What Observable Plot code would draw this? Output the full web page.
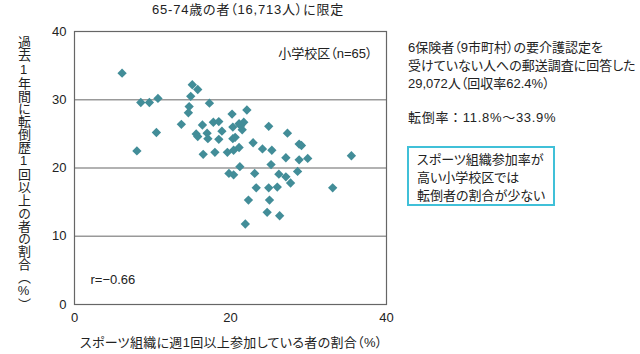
<!DOCTYPE html>
<html><head><meta charset="utf-8">
<script src="https://cdn.jsdelivr.net/npm/d3@7"></script>
<script src="https://cdn.jsdelivr.net/npm/@observablehq/plot@0.6"></script>
<style>
body{margin:0;background:#fff;}
#wrap{position:relative;width:640px;height:354px;font-family:"Liberation Sans","Noto Sans CJK JP",sans-serif;color:#222;font-feature-settings:"palt";}
#wrap svg{position:absolute;left:0;top:0;}
.t{position:absolute;font-size:13px;line-height:18px;white-space:nowrap;}
#ylab{position:absolute;left:14px;top:36px;writing-mode:vertical-rl;text-orientation:upright;font-size:13px;line-height:18px;font-feature-settings:normal;letter-spacing:-0.2px;}
#box{position:absolute;left:407px;top:146px;width:148px;height:60px;border:2px solid #40c0d8;padding:3px 0 0 8px;box-sizing:border-box;font-size:13px;line-height:18px;}
</style></head>
<body><div id="wrap"></div>
<script>
// school-district participation rate (%) and fall rate (%)
const sportRate = [6.1,15.1,15.8,8.5,9.6,10.7,14.9,17.3,14.7,14.6,20.2,22.1,13.7,10.5,16.4,17.8,18.5,15.6,15.8,17.0,17.1,18.5,18.9,20.3,20.3,20.6,21.1,21.7,21.5,24.9,27.3,8.0,16.5,18.0,19.6,20.4,21.1,22.9,24.1,25.3,28.8,29.1,27.1,28.8,29.9,35.5,21.2,25.2,19.8,20.4,23.1,26.2,27.1,27.7,28.6,23.3,24.9,26.0,33.1,22.3,25.0,24.7,26.3,21.9,21.3];
const fallRate  = [33.9,32.2,31.5,29.6,29.6,30.2,30.5,29.5,29.0,28.1,27.9,28.5,26.4,25.2,26.3,26.7,26.8,25.0,24.6,25.1,24.3,24.2,25.4,26.0,24.3,24.5,26.5,26.7,25.6,26.1,25.1,22.5,22.0,22.3,22.3,22.6,23.0,23.7,22.8,22.6,23.5,23.3,21.5,21.2,21.4,21.8,20.2,20.5,19.2,19.0,19.2,19.1,18.7,17.8,19.5,17.1,17.1,17.2,17.1,15.3,15.3,13.5,13.0,11.8,26.2];
const xTicks = [0,20,40];
const yTicks = [0,10,20,30,40];
const yGrid = [10,20,30];
const title = "65-74歳の者（16,713人）に限定";
const xLabel = "スポーツ組織に週1回以上参加している者の割合（%）";
const yLabel = "過去1年間に転倒歴1回以上の者の割合（%）";
const groupLabel = "小学校区（n=65）";
const rLabel = "r=−0.66";
const noteLines = ["6保険者（9市町村）の要介護認定を","受けていない人への郵送調査に回答した","29,072人（回収率62.4%）"];
const rateLine = "転倒率：11.8%〜33.9%";
const boxLines = ["スポーツ組織参加率が","高い小学校区では","転倒者の割合が少ない"];

const pts = sportRate.map((x,i)=>({x, y: fallRate[i]}));
const font = `"Liberation Sans","Noto Sans CJK JP",sans-serif`;

const chart = Plot.plot({
  width: 400, height: 354,
  marginLeft: 74, marginRight: 14, marginTop: 31, marginBottom: 50,
  style: {fontFamily: font, fontSize: "13px", color: "#222", background: "transparent"},
  x: {domain: [0,40], ticks: xTicks, tickSize: 0, tickPadding: 8, label: null},
  y: {domain: [0,40], ticks: yTicks, tickSize: 0, tickPadding: 8, label: null},
  marks: [
    Plot.ruleY(yGrid, {stroke: "#999", strokeWidth: 1.5}),
    Plot.frame({stroke: "#666", strokeWidth: 1.2}),
    Plot.dot(pts, {x: "x", y: "y", symbol: "diamond2", r: 4.2, fill: "#428d98", stroke: "none"}),
    Plot.text([groupLabel], {frameAnchor: "top-right", dx: -14, dy: 17, text: d=>d, fontSize: 13, fill: "#222"}),
    Plot.text([rLabel], {frameAnchor: "bottom-left", dx: 16, dy: -21, text: d=>d, fontSize: 13, fill: "#222"})
  ]
});
const wrap = document.getElementById("wrap");
wrap.appendChild(chart);

function add(html, cls, style){const d=document.createElement("div");d.className=cls||"t";d.innerHTML=html;Object.assign(d.style,style||{});wrap.appendChild(d);return d;}
add(title,"t",{left:"152px",top:"1px",letterSpacing:"0.8px"});
add(xLabel,"t",{left:"80px",top:"334px",letterSpacing:"0.3px"});
const yl=document.createElement("div");yl.id="ylab";yl.textContent=yLabel;wrap.appendChild(yl);
add(noteLines.join("<br>"),"t",{left:"408px",top:"39px"});
add(rateLine,"t",{left:"408px",top:"109px",fontFeatureSettings:"normal",letterSpacing:"0.7px"});
const b=document.createElement("div");b.id="box";b.innerHTML=boxLines.join("<br>");wrap.appendChild(b);
</script>
</body></html>
